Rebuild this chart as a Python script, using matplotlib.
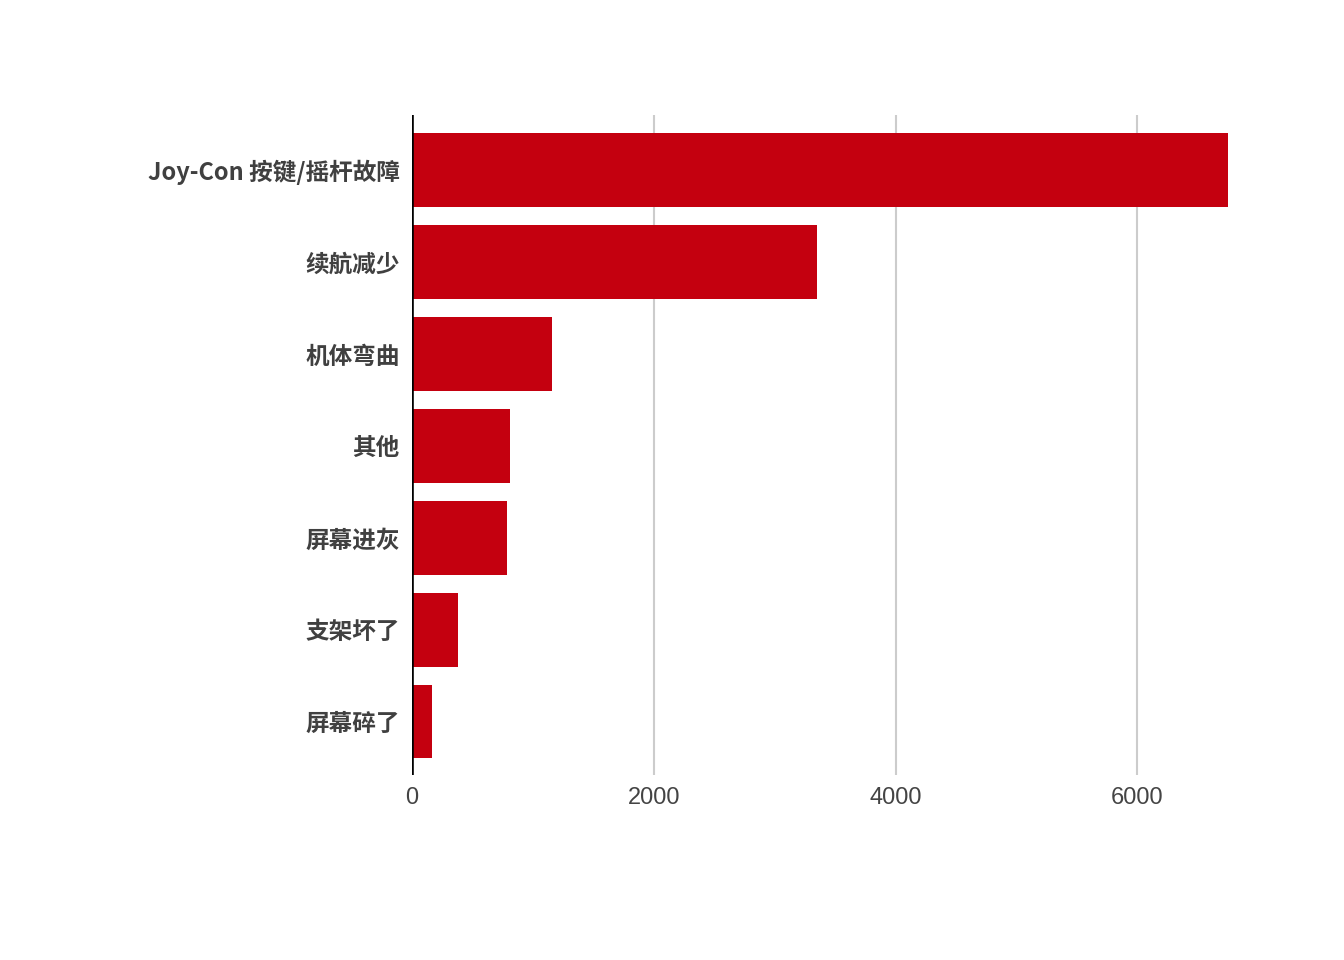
import matplotlib
matplotlib.use('Agg')
import matplotlib.pyplot as plt

categories = ['Joy-Con 按键/摇杆故障', '续航减少', '机体弯曲', '其他', '屏幕进灰', '支架坏了', '屏幕碎了']
counts = [6745, 3348, 1157, 810, 785, 380, 165]
ticks = [0, 2000, 4000, 6000]

plt.rcParams['font.family'] = ['Noto Sans CJK SC', 'DejaVu Sans']

fig = plt.figure(figsize=(13.44, 9.6), dpi=100)
ax = fig.add_axes([412 / 1344, 1 - 775 / 960, (1230 - 412) / 1344, (775 - 115) / 960])

ypos = list(range(len(categories)))
ax.barh(ypos, counts, height=0.8, color='#C4000F', zorder=2)
ax.set_ylim(len(categories) - 1 + 0.58, -0.6)
ax.set_xlim(0, 6765)

ax.set_yticks(ypos)
ax.set_yticklabels(categories, fontsize=17, fontweight='bold', color='#404040')
ax.set_xticks(ticks)
ax.set_xticklabels([str(t) for t in ticks], fontsize=17, color='#444444',
                   family=['Liberation Sans', 'DejaVu Sans'])
ax.tick_params(axis='both', length=0)
ax.tick_params(axis='y', pad=9)
ax.tick_params(axis='x', pad=9)

for t in ticks[1:]:
    ax.axvline(t, color='#cccccc', linewidth=1.5, zorder=1)
ax.axvline(0, color='black', linewidth=2.6, zorder=3)

for s in ax.spines.values():
    s.set_visible(False)

fig.savefig('out.png', dpi=100, facecolor='white')
